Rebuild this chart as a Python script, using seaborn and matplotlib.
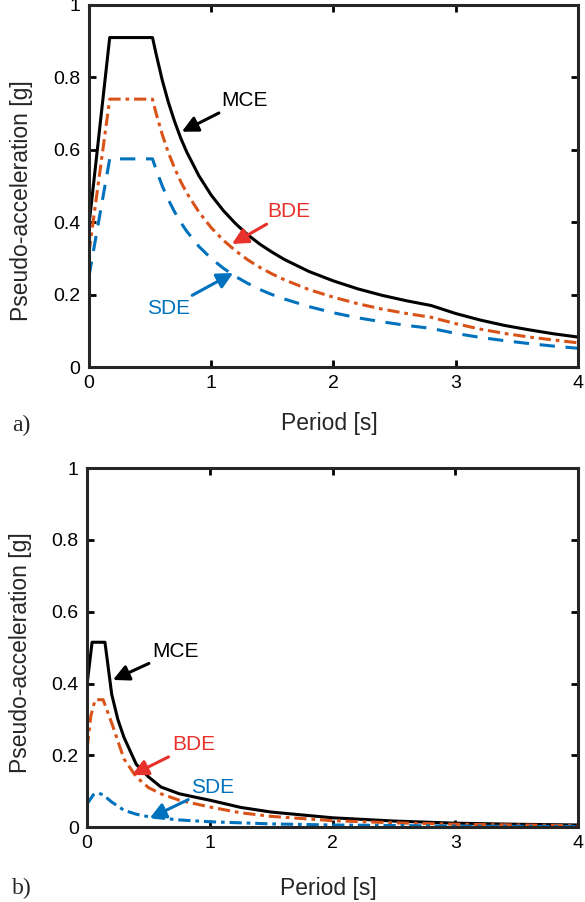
import matplotlib
matplotlib.use("Agg")
import matplotlib.pyplot as plt
import pandas as pd
import seaborn as sns

# panel a) design spectra
period_a = [0.0, 0.17, 0.52, 0.55, 0.6, 0.65, 0.7, 0.75, 0.8, 0.9, 1.0, 1.1, 1.2, 1.3, 1.4, 1.5,
            1.6, 1.8, 2.0, 2.2, 2.4, 2.6, 2.8, 3.0, 3.2, 3.4, 3.6, 3.8, 4.0]
mce_a = [0.39, 0.91, 0.91, 0.864, 0.792, 0.731, 0.679, 0.633, 0.594, 0.528, 0.475, 0.432, 0.396,
         0.365, 0.339, 0.317, 0.297, 0.264, 0.238, 0.216, 0.198, 0.183, 0.170, 0.148, 0.130,
         0.115, 0.103, 0.092, 0.083]
bde_a = [0.315, 0.74, 0.74, 0.70, 0.642, 0.592, 0.55, 0.513, 0.481, 0.428, 0.385, 0.35, 0.321,
         0.296, 0.275, 0.257, 0.241, 0.214, 0.193, 0.175, 0.160, 0.148, 0.1375, 0.120, 0.105,
         0.093, 0.083, 0.075, 0.067]
sde_a = [0.25, 0.575, 0.575, 0.545, 0.50, 0.462, 0.429, 0.40, 0.375, 0.333, 0.30, 0.273, 0.25,
         0.231, 0.214, 0.20, 0.188, 0.167, 0.15, 0.136, 0.125, 0.115, 0.107, 0.093, 0.082,
         0.073, 0.065, 0.058, 0.052]

# panel b) spectra
period_mce_b = [0.0, 0.04, 0.145, 0.2, 0.25, 0.3, 0.4, 0.5, 0.6, 0.75, 0.9, 1.0, 1.25, 1.5,
                2.0, 2.5, 3.0, 3.5, 4.0]
mce_b = [0.40, 0.515, 0.515, 0.37, 0.30, 0.25, 0.175, 0.14, 0.112, 0.093, 0.082, 0.075, 0.055,
         0.042, 0.026, 0.017, 0.011, 0.008, 0.006]
period_bde_b = [0.0, 0.03, 0.065, 0.13, 0.2, 0.25, 0.3, 0.4, 0.5, 0.6, 0.75, 1.0, 1.25, 1.5,
                2.0, 2.5, 3.0, 3.5, 4.0]
bde_b = [0.22, 0.31, 0.355, 0.355, 0.29, 0.24, 0.19, 0.14, 0.11, 0.093, 0.075, 0.056, 0.04, 0.03,
         0.018, 0.012, 0.008, 0.006, 0.004]
period_sde_b = [0.0, 0.05, 0.09, 0.13, 0.2, 0.3, 0.4, 0.5, 0.75, 1.0, 1.5, 2.0, 3.0, 4.0]
sde_b = [0.065, 0.09, 0.095, 0.09, 0.07, 0.047, 0.036, 0.029, 0.02, 0.015, 0.009, 0.006, 0.003, 0.002]

x_ticks = [0, 1, 2, 3, 4]
y_ticks = [0, 0.2, 0.4, 0.6, 0.8, 1]
y_labels = ["0", "0.2", "0.4", "0.6", "0.8", "1"]

BLACK = "#000000"
ORANGE = "#D95319"
BLUE = "#0072BD"
RED = "#E8312A"
DASHDOT = [4, 1.6, 1.2, 1.6]
DASHED = [5, 3.5]

sns.set_style("ticks")
plt.rcParams["font.family"] = ["Liberation Sans", "DejaVu Sans"]

fig = plt.figure(figsize=(5.85, 9.02), dpi=100)
ax_a = fig.add_axes([0.152, 0.593, 0.836, 0.4015])
ax_b = fig.add_axes([0.149, 0.083, 0.839, 0.398])


def draw(ax, px, py, color, dashes=None):
    df = pd.DataFrame({"T": px, "Sa": py})
    sns.lineplot(data=df, x="T", y="Sa", ax=ax, color=color, lw=2.2)
    if dashes is not None:
        ax.lines[-1].set_dashes(dashes)


def style(ax, xlab_y, ylab_x, ylab_y):
    ax.set_xlim(0, 4)
    ax.set_ylim(0, 1)
    ax.set_xticks(x_ticks)
    ax.set_xticklabels([str(t) for t in x_ticks])
    ax.set_yticks(y_ticks)
    ax.set_yticklabels(y_labels)
    ax.tick_params(direction="in", top=True, right=True, length=5, width=2,
                   labelsize=14, colors="black", pad=6)
    for s in ax.spines.values():
        s.set_linewidth(2.2)
        s.set_visible(True)
    ax.set_xlabel("Period [s]", fontsize=16.5)
    ax.set_ylabel("Pseudo-acceleration [g]", fontsize=16.5)
    ax.xaxis.set_label_coords(0.492, xlab_y)
    ax.yaxis.set_label_coords(ylab_x, ylab_y)


def note(ax, text, xy, xytext, tcolor, acolor, ha="left"):
    ax.annotate(text, xy=xy, xytext=xytext, color=tcolor, fontsize=15, ha=ha, va="center",
                arrowprops=dict(arrowstyle="-|>", color=acolor, lw=2.2, mutation_scale=24,
                                shrinkA=0, shrinkB=0))


draw(ax_a, period_a, mce_a, BLACK)
draw(ax_a, period_a, bde_a, ORANGE, DASHDOT)
draw(ax_a, period_a, sde_a, BLUE, DASHED)
style(ax_a, -0.124, -0.115, 0.46)
note(ax_a, "MCE", (0.76, 0.65), (1.08, 0.737), BLACK, BLACK)
note(ax_a, "BDE", (1.17, 0.34), (1.46, 0.43), RED, RED)
note(ax_a, "SDE", (1.18, 0.26), (0.83, 0.163), BLUE, BLUE, ha="right")

draw(ax_b, period_mce_b, mce_b, BLACK)
draw(ax_b, period_bde_b, bde_b, ORANGE, DASHDOT)
draw(ax_b, period_sde_b, sde_b, BLUE, DASHDOT)
style(ax_b, -0.139, -0.112, 0.485)
note(ax_b, "MCE", (0.21, 0.41), (0.53, 0.49), BLACK, BLACK)
note(ax_b, "BDE", (0.365, 0.145), (0.69, 0.23), RED, RED)
note(ax_b, "SDE", (0.51, 0.025), (0.85, 0.11), BLUE, BLUE)

fig.text(0.02, 1 - 425 / 902, "a)", fontsize=17, family=["Liberation Serif"], va="center")
fig.text(0.02, 1 - 888 / 902, "b)", fontsize=17, family=["Liberation Serif"], va="center")

fig.savefig("out.png", dpi=100)
